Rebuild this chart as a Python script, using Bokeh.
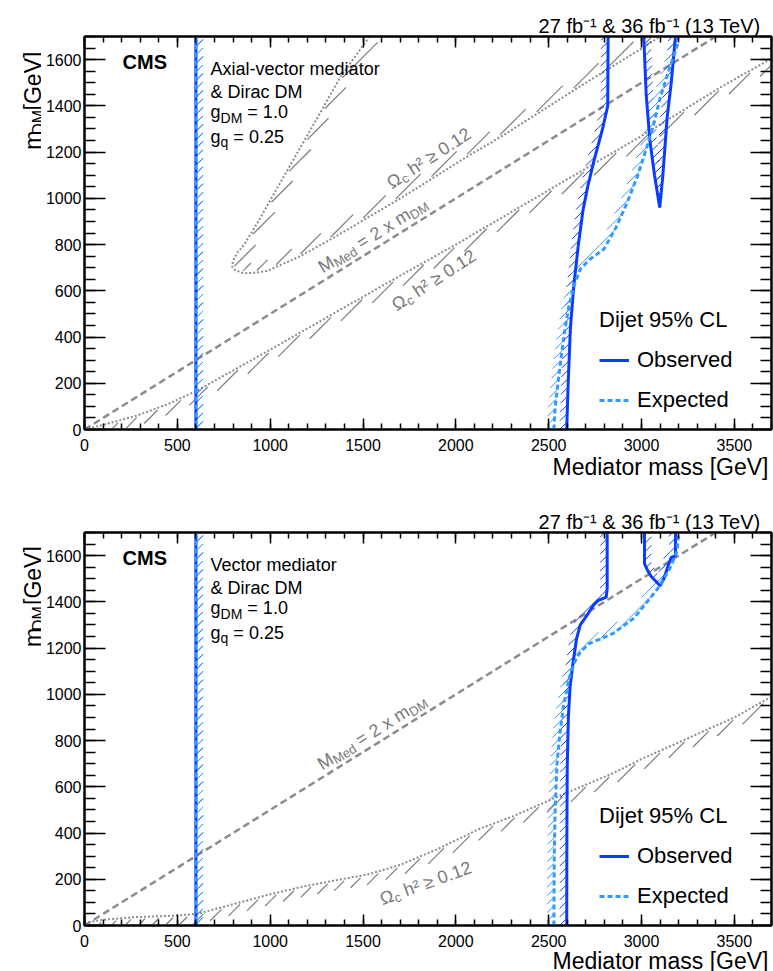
import numpy as np
from bokeh.plotting import figure
from bokeh.models import (Range1d, LinearAxis, SingleIntervalTicker, Label, Legend,
                          LegendItem, Title)
from bokeh.layouts import column, row
from bokeh.embed import file_html
from bokeh.resources import INLINE

# ---------------- data ----------------
X_RANGE = (0, 3700)
Y_RANGE = (0, 1700)

# Upper panel: axial-vector mediator
av_obs_a_x = [600, 600]
av_obs_a_y = [1700, 0]
av_exp_a_x = [600, 600]
av_exp_a_y = [1700, 0]
av_obs_b_x = [2597, 2605, 2617, 2635, 2660, 2685, 2710, 2743, 2790, 2818, 2820]
av_obs_b_y = [0, 200, 440, 620, 800, 950, 1050, 1160, 1300, 1400, 1700]
av_obs_c_x = [3012, 3025, 3045, 3070, 3098, 3115, 3138, 3160, 3183]
av_obs_c_y = [1700, 1450, 1250, 1100, 960, 1100, 1350, 1500, 1700]
av_exp_b_x = [2528, 2535, 2550, 2565, 2585, 2610, 2640, 2671, 2720, 2797, 2860, 2922,
              2980, 3030, 3070, 3102, 3150, 3192, 3197]
av_exp_b_y = [0, 100, 200, 300, 420, 540, 630, 695, 735, 780, 870, 980,
              1100, 1225, 1335, 1440, 1560, 1660, 1700]
av_relic_up_x = [1535, 1380, 1217, 1073, 930, 860, 822, 800, 795, 810, 858, 920, 984,
                 1163, 1343, 1522, 1702, 1881, 2050, 2250, 2456, 2700, 2994, 3100]
av_relic_up_y = [1700, 1527, 1296, 1094, 892, 800, 763, 730, 705, 690, 676, 678, 686,
                 750, 830, 915, 1000, 1090, 1175, 1270, 1375, 1500, 1645, 1700]
av_relic_lo_x = [0, 100, 285, 450, 608, 1000, 1600, 2000, 2563, 3000, 3425, 3700]
av_relic_lo_y = [0, 20, 61, 110, 169, 345, 620, 800, 1065, 1270, 1480, 1605]

# Lower panel: vector mediator
v_obs_a_x = [600, 600]
v_obs_a_y = [1700, 0]
v_exp_a_x = [600, 600]
v_exp_a_y = [1700, 0]
v_obs_b_x = [2597, 2598, 2600, 2606, 2615, 2630, 2650, 2670, 2705, 2740, 2765, 2810, 2815, 2815]
v_obs_b_y = [0, 400, 690, 900, 1030, 1130, 1240, 1300, 1340, 1385, 1405, 1420, 1460, 1700]
v_obs_c_x = [3016, 3016, 3030, 3050, 3100, 3120, 3145, 3160, 3183, 3183]
v_obs_c_y = [1700, 1565, 1540, 1512, 1470, 1500, 1560, 1592, 1600, 1700]
v_exp_b_x = [2528, 2530, 2535, 2545, 2560, 2580, 2610, 2640, 2671, 2720, 2780, 2850,
             2960, 3030, 3090, 3150, 3192, 3200]
v_exp_b_y = [0, 300, 500, 700, 830, 950, 1070, 1140, 1185, 1220, 1240, 1265,
             1330, 1400, 1460, 1540, 1620, 1700]
v_relic_x = [0, 100, 265, 500, 607, 800, 1000, 1163, 1350, 1522, 1700, 1900, 2133,
             2300, 2500, 2600, 2850, 3000, 3250, 3500, 3700]
v_relic_y = [10, 25, 36, 43, 50, 92, 135, 166, 195, 220, 262, 330, 420,
             470, 540, 575, 660, 720, 810, 900, 990]

mmed_x = [0, 3400]
mmed_y = [0, 1700]

x_tick_step = 500
y_tick_step = 200

# ---------------- geometry / style ----------------
FW, FH = 687, 393
KX = FW / (X_RANGE[1] - X_RANGE[0])
KY = FH / (Y_RANGE[1] - Y_RANGE[0])
FONT = "Liberation Sans"
OBS_C = "#0a3cff"
EXP_C = "#3399ff"
GRAY = "#8c8c8c"
HATCH_GRAY = "#7d7d7d"
TXT_GRAY = "#7a7a7a"
LEFT_STRIP = 41
LEFT_BORDER = 43

AW = {' ': 278, '!': 278, '%': 889, '&': 667, '(': 333, ')': 333, '-': 333, '.': 278,
      '=': 584, '[': 278, ']': 278, 'A': 667, 'C': 722, 'D': 722, 'G': 778, 'L': 556,
      'M': 833, 'S': 667, 'T': 611, 'V': 667, 'a': 556, 'b': 556, 'c': 500, 'd': 556,
      'e': 556, 'f': 278, 'g': 556, 'h': 556, 'i': 222, 'j': 222, 'l': 222, 'm': 833,
      'o': 556, 'q': 556, 'r': 333, 's': 500, 't': 278, 'v': 500, 'x': 500,
      'Ω': 768, '≥': 549, '²': 333}


def tw(s, size):
    return sum(AW.get(ch, 556) for ch in s) * size / 1000.0


def rich(p, x, y, parts, angle=0.0, color="black", style="normal", kx=KX, ky=KY):
    a = np.radians(angle)
    ux, uy = np.cos(a), np.sin(a)
    vx, vy = -np.sin(a), np.cos(a)
    adv = 0.0
    for text, size, shift in parts:
        lead = len(text) - len(text.lstrip(' '))
        adv += tw(' ' * lead, size)
        t = text.lstrip(' ')
        ox = adv * ux + shift * vx
        oy = adv * uy + shift * vy
        p.add_layout(Label(x=x + ox / kx, y=y + oy / ky, text=t, angle=a,
                           text_font_size=f"{size}px", text_font=FONT,
                           text_font_style=style, text_color=color,
                           text_baseline="alphabetic", text_align="left"))
        adv += tw(t, size)
    return adv


def clip_seg(x0, y0, x1, y1, xmin, xmax, ymin, ymax):
    dx, dy = x1 - x0, y1 - y0
    t0, t1 = 0.0, 1.0
    for pp, qq in ((-dx, x0 - xmin), (dx, xmax - x0), (-dy, y0 - ymin), (dy, ymax - y0)):
        if pp == 0:
            if qq < 0:
                return None
        else:
            r = qq / pp
            if pp < 0:
                t0 = max(t0, r)
            else:
                t1 = min(t1, r)
    if t0 > t1:
        return None
    return x0 + t0 * dx, y0 + t0 * dy, x0 + t1 * dx, y0 + t1 * dy


def hatch(xs, ys, side, g, w, d, ang):
    P = np.stack([np.asarray(xs, float) * KX, np.asarray(ys, float) * KY], 1)
    seg = np.diff(P, axis=0)
    seg /= np.linalg.norm(seg, axis=1)[:, None]
    t = np.zeros_like(P)
    t[0] = seg[0]
    t[-1] = seg[-1]
    t[1:-1] = seg[:-1] + seg[1:]
    n = np.stack([-t[:, 1], t[:, 0]], 1)
    n /= np.linalg.norm(n, axis=1)[:, None]
    inner = P + side * g * n
    outer = P + side * (g + w) * n
    a = np.radians(ang)
    dv = np.array([np.cos(a), np.sin(a)])
    mv = np.array([-np.sin(a), np.cos(a)])
    x0, y0, x1, y1 = [], [], [], []
    for i in range(len(P) - 1):
        quad = [inner[i], inner[i + 1], outer[i + 1], outer[i]]
        u = [q @ mv for q in quad]
        lo, hi = min(u), max(u)
        c = np.ceil(lo / d) * d
        while c < hi:
            pts = []
            for k in range(4):
                q1, q2 = quad[k], quad[(k + 1) % 4]
                u1, u2 = u[k], u[(k + 1) % 4]
                if (u1 - c) * (u2 - c) < 0:
                    tt = (c - u1) / (u2 - u1)
                    pts.append(q1 + tt * (q2 - q1))
            if len(pts) >= 2:
                pts.sort(key=lambda q: q @ dv)
                cl = clip_seg(pts[0][0] / KX, pts[0][1] / KY, pts[-1][0] / KX, pts[-1][1] / KY,
                              X_RANGE[0], X_RANGE[1], Y_RANGE[0], Y_RANGE[1])
                if cl is not None:
                    x0.append(cl[0]); y0.append(cl[1]); x1.append(cl[2]); y1.append(cl[3])
            c += d
    return x0, y0, x1, y1


def draw_hatch(p, xs, ys, side, g, w, d, ang, color, lw):
    x0, y0, x1, y1 = hatch(xs, ys, side, g, w, d, ang)
    p.segment(x0, y0, x1, y1, line_color=color, line_width=lw)


def style_axis(ax, major, minor, labels, standoff):
    ax.major_tick_in = major
    ax.major_tick_out = 0
    ax.minor_tick_in = minor
    ax.minor_tick_out = 0
    ax.axis_line_width = 2
    ax.axis_line_color = "black"
    ax.major_tick_line_width = 1.5
    ax.minor_tick_line_width = 1.5
    ax.major_tick_line_color = "black"
    ax.minor_tick_line_color = "black"
    ax.major_label_standoff = standoff
    if labels:
        ax.major_label_text_font = FONT
        ax.major_label_text_font_size = "16px"
        ax.major_label_text_color = "black"
    else:
        ax.major_label_text_font_size = "0px"
        ax.major_label_text_color = None


def make_ystrip(height, frame_top):
    s = figure(width=LEFT_STRIP, height=height, x_range=Range1d(0, LEFT_STRIP),
               y_range=Range1d(0, height), min_border=0, toolbar_location=None,
               output_backend="svg", x_axis_type=None, y_axis_type=None,
               outline_line_color=None, title=None)
    s.grid.visible = False
    parts = [("m", 23, 0), ("DM", 16, -5), (" [GeV]", 23, 0)]
    ylen = sum(tw(t, sz) for t, sz, _ in parts)
    rich(s, 32.5, height - frame_top - ylen, parts, angle=90, kx=1.0, ky=1.0)
    return s


def make_panel(title_lines, obs_segments, exp_segments, relic_curves, labels,
               top_border, bottom_border, xtitle_standoff):
    p = figure(frame_width=FW, frame_height=FH, x_range=Range1d(*X_RANGE),
               y_range=Range1d(*Y_RANGE), output_backend="svg", toolbar_location=None,
               min_border_left=LEFT_BORDER, min_border_right=2, min_border_top=top_border,
               min_border_bottom=bottom_border, background_fill_color="white",
               border_fill_color="white", outline_line_color="black",
               outline_line_width=2, title=None)
    p.grid.visible = False
    p.xaxis[0].ticker = SingleIntervalTicker(interval=x_tick_step, num_minor_ticks=5)
    p.yaxis[0].ticker = SingleIntervalTicker(interval=y_tick_step, num_minor_ticks=4)
    style_axis(p.xaxis[0], 11, 6, True, 9)
    style_axis(p.yaxis[0], 21, 11, True, 3)
    top = LinearAxis(ticker=SingleIntervalTicker(interval=x_tick_step, num_minor_ticks=5))
    right = LinearAxis(ticker=SingleIntervalTicker(interval=y_tick_step, num_minor_ticks=4))
    style_axis(top, 11, 6, False, 0)
    style_axis(right, 21, 11, False, 0)
    p.add_layout(top, "above")
    p.add_layout(right, "right")

    p.add_layout(Title(text="27 fb⁻¹ & 36 fb⁻¹ (13 TeV)", align="right", offset=11,
                       standoff=0, text_font=FONT, text_font_size="20px",
                       text_font_style="normal", text_color="black"), "above")
    p.add_layout(Title(text="Mediator mass [GeV]", align="right", offset=3,
                       standoff=xtitle_standoff, vertical_align="top", text_font=FONT,
                       text_font_size="23px", text_font_style="normal",
                       text_color="black"), "below")

    # relic density curves
    for xs, ys, side in relic_curves:
        draw_hatch(p, xs, ys, side, 2.0, 8.0, 9.5, 45.0, HATCH_GRAY, 1.2)
        p.line(xs, ys, line_color=GRAY, line_width=2, line_dash="2 2")
    p.line(mmed_x, mmed_y, line_color=GRAY, line_width=2.5, line_dash="7 4")

    # exclusion contours
    for xs, ys in obs_segments:
        draw_hatch(p, xs, ys, 1, 0.0, 7.0, 6.0, 45.0, OBS_C, 1.0)
    for xs, ys in exp_segments:
        draw_hatch(p, xs, ys, 1, 0.0, 7.0, 6.0, 45.0, EXP_C, 1.0)
    r_obs = None
    for xs, ys in obs_segments:
        r_obs = p.line(xs, ys, line_color=OBS_C, line_width=3)
    r_exp = None
    for xs, ys in exp_segments:
        r_exp = p.line(xs, ys, line_color=EXP_C, line_width=3, line_dash="5 3")

    legend = Legend(items=[LegendItem(label="Observed", renderers=[r_obs]),
                           LegendItem(label="Expected", renderers=[r_exp])],
                    location=(515, 14), title="Dijet 95% CL",
                    title_text_font=FONT, title_text_font_size="22px",
                    title_text_font_style="normal", title_text_color="black",
                    title_standoff=12,
                    label_text_font=FONT, label_text_font_size="22px",
                    label_text_color="black",
                    glyph_width=30, glyph_height=30, label_height=30,
                    label_standoff=8, spacing=10, padding=0, margin=0,
                    border_line_alpha=0, background_fill_alpha=0)
    p.add_layout(legend, "center")

    # texts inside the frame
    rich(p, 205, 1589, [("CMS", 20, 0)], style="bold")
    ybl = [1560, 1462, 1372, 1264]
    rich(p, 679, ybl[0], [(title_lines[0], 18, 0)])
    rich(p, 679, ybl[1], [(title_lines[1], 18, 0)])
    rich(p, 679, ybl[2], [("g", 18, 0), ("DM", 14, -6), (" = 1.0", 18, 0)])
    rich(p, 679, ybl[3], [("g", 18, 0), ("q", 14, -5), (" = 0.25", 18, 0)])

    for (lx, ly, ang, parts) in labels:
        rich(p, lx, ly, parts, angle=ang, color=TXT_GRAY)
    return p


omega = [("Ω", 18, 0), ("c", 13, -4), (" h² ≥ 0.12", 18, 0)]
mmed_lab = [("M", 18, 0), ("Med", 13, -4), (" = 2 x m", 18, 0), ("DM", 13, -4)]

p1 = make_panel(["Axial-vector mediator", "& Dirac DM"],
                [(av_obs_a_x, av_obs_a_y), (av_obs_b_x, av_obs_b_y), (av_obs_c_x, av_obs_c_y)],
                [(av_exp_a_x, av_exp_a_y), (av_exp_b_x, av_exp_b_y)],
                [(av_relic_up_x, av_relic_up_y, 1), (av_relic_lo_x, av_relic_lo_y, -1)],
                [(1637, 1060, 33, omega), (1268, 697, 32, mmed_lab), (1664, 532, 33, omega)],
                36, 75, 0)
p2 = make_panel(["Vector mediator", "& Dirac DM"],
                [(v_obs_a_x, v_obs_a_y), (v_obs_b_x, v_obs_b_y), (v_obs_c_x, v_obs_c_y)],
                [(v_exp_a_x, v_exp_a_y), (v_exp_b_x, v_exp_b_y)],
                [(v_relic_x, v_relic_y, -1)],
                [(1263, 693, 32, mmed_lab), (1594, 112, 20, omega)],
                28, 46, -3)

H1 = 36 + FH + 75
H2 = 28 + FH + 46
layout = column(row(make_ystrip(H1, 36), p1, spacing=0),
                row(make_ystrip(H2, 28), p2, spacing=0), spacing=0)
open("out.html", "w").write(file_html(layout, INLINE))
